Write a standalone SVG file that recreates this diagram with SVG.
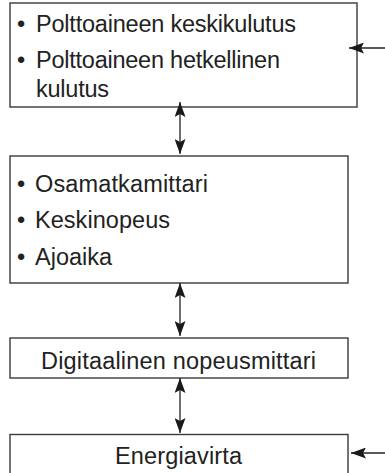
<svg xmlns="http://www.w3.org/2000/svg" width="385" height="473" viewBox="0 0 385 473">
<defs>
<marker id="ah" markerUnits="userSpaceOnUse" markerWidth="15" markerHeight="11" refX="15" refY="5.5" orient="auto-start-reverse" viewBox="0 0 15 11">
<path d="M0,0 L15,5.5 L0,11 L3,5.5 z" fill="#1a1a1a"/>
</marker>
<style>
.box{fill:#fff;stroke:#3a3a3a;stroke-width:1.4}
.t{font-family:"Liberation Sans",Arial,sans-serif;font-size:23.5px;fill:#222}
.c{text-anchor:middle}
.ln{stroke:#222;stroke-width:1.3;fill:none}
</style>
</defs>
<rect width="385" height="473" fill="#fff"/>
<g id="n1">
<rect class="box" x="10" y="3" width="347" height="104"/>
<text class="t" x="17" y="32">•</text>
<text class="t" x="36" y="32" textLength="260" lengthAdjust="spacing">Polttoaineen keskikulutus</text>
<text class="t" x="17" y="68">•</text>
<text class="t" x="36" y="68" textLength="244" lengthAdjust="spacing">Polttoaineen hetkellinen</text>
<text class="t" x="36" y="97" textLength="73" lengthAdjust="spacing">kulutus</text>
</g>
<g id="n2">
<rect class="box" x="10" y="156" width="338" height="127"/>
<text class="t" x="17" y="192">•</text>
<text class="t" x="35" y="192" textLength="173" lengthAdjust="spacing">Osamatkamittari</text>
<text class="t" x="17" y="228">•</text>
<text class="t" x="35" y="228" textLength="135" lengthAdjust="spacing">Keskinopeus</text>
<text class="t" x="17" y="265">•</text>
<text class="t" x="35" y="265" textLength="77" lengthAdjust="spacing">Ajoaika</text>
</g>
<g id="n3">
<rect class="box" x="10" y="338" width="338" height="40"/>
<text class="t" x="41" y="369" textLength="275" lengthAdjust="spacing">Digitaalinen nopeusmittari</text>
</g>
<g id="n4">
<rect class="box" x="10" y="434.5" width="338" height="45"/>
<text class="t" x="115" y="464" textLength="127" lengthAdjust="spacing">Energiavirta</text>
</g>
<g id="connectors">
<line class="ln" x1="180" y1="102" x2="180" y2="154" marker-start="url(#ah)" marker-end="url(#ah)"/>
<line class="ln" x1="180" y1="283" x2="180" y2="336" marker-start="url(#ah)" marker-end="url(#ah)"/>
<line class="ln" x1="180" y1="378" x2="180" y2="433" marker-start="url(#ah)" marker-end="url(#ah)"/>
<line class="ln" x1="385" y1="48" x2="349" y2="48" marker-end="url(#ah)"/>
<line class="ln" x1="385" y1="453" x2="351" y2="453" marker-end="url(#ah)"/>
</g>
</svg>
